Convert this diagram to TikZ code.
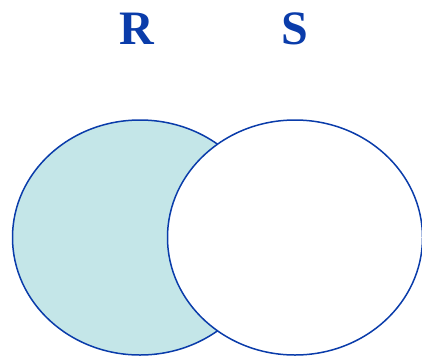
\documentclass[tikz,border=0pt]{standalone}
\usepackage{fontspec}
\setmainfont{Liberation Serif}
\usepackage{xcolor}
\usetikzlibrary{shapes.geometric, positioning}
\definecolor{setblue}{HTML}{0A3CAA}
\definecolor{setfill}{HTML}{C4E6E8}
\tikzset{
    setshape/.style={
        ellipse, minimum width=255pt, minimum height=235pt, inner sep=0pt,
        draw=setblue, line width=1.5pt
    },
    setname/.style={
        text=setblue, font=\fontsize{48}{48}\selectfont\bfseries, inner sep=0pt
    }
}
\begin{document}
\begin{tikzpicture}[x=1pt, y=-1pt]
        \useasboundingbox (0,0) rectangle (422,356);
        %\node [setname] at (137,29) {R};
        \node [setshape, fill=setfill] (setR) at (140,237.5) {};
        \node [setshape, fill=white] (setS) at (295,237.5) {};
        \node [setname] (labelR) at (137,29) {R};
        \node [setname] (labelS) at (295,29) {S};
\end{tikzpicture}
\end{document}
